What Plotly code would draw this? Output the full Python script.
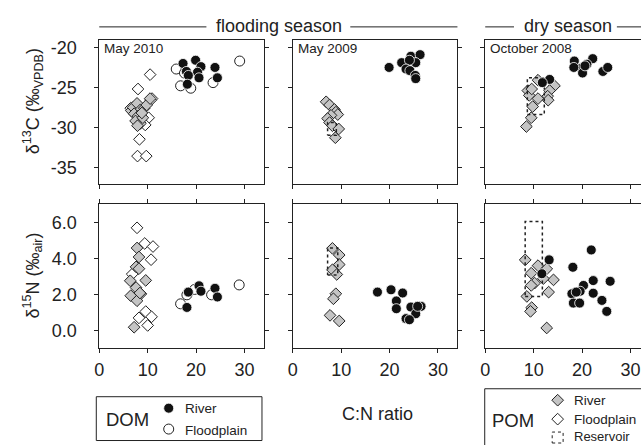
import plotly.graph_objects as go

# ---------------- data (C:N ratio vs isotopes) ----------------
# May 2010 - d13C
m10_dom_river_cn_c = [17.3, 19.9, 21.0, 23.9, 18.0, 20.3, 18.4, 20.6, 24.4, 18.2]
m10_dom_river_d13c = [-22.0, -21.6, -22.4, -22.5, -23.0, -23.1, -23.5, -23.8, -23.8, -24.6]
m10_dom_flood_cn_c = [15.9, 17.6, 16.8, 18.9, 23.5, 29.0]
m10_dom_flood_d13c = [-22.7, -23.2, -24.8, -25.1, -24.4, -21.7]
m10_pom_river_cn_c = [6.6, 7.0, 7.8, 8.5, 7.2, 8.0, 9.3, 9.8, 7.5, 8.5, 9.0, 7.9, 10.5, 8.8]
m10_pom_river_d13c = [-27.9, -27.5, -27.0, -27.8, -28.3, -28.6, -27.6, -27.2, -29.2, -29.5, -28.8, -29.8, -26.4, -28.2]
m10_pom_flood_cn_c = [10.5, 8.0, 10.9, 10.6, 10.2, 9.5, 8.3, 7.9, 9.7, 6.5]
m10_pom_flood_d13c = [-23.4, -25.2, -26.4, -26.6, -28.8, -29.7, -31.5, -33.6, -33.6, -27.6]
# May 2010 - d15N
m10_dom_river_cn_n = [18.1, 18.4, 20.6, 21.0, 23.9, 24.4]
m10_dom_river_d15n = [1.3, 2.15, 2.5, 2.2, 2.36, 1.88]
m10_dom_flood_cn_n = [16.8, 18.1, 19.7, 23.2, 28.9]
m10_dom_flood_d15n = [1.5, 2.0, 2.3, 2.0, 2.55]
m10_pom_river_cn_n = [7.8, 8.2, 7.6, 8.2, 6.4, 9.6, 7.6, 6.5, 8.6, 7.8, 7.2, 8.4]
m10_pom_river_d15n = [4.6, 4.1, 3.55, 3.45, 2.78, 2.8, 2.4, 1.95, 2.05, 1.67, 0.2, 2.1]
m10_pom_flood_cn_n = [7.8, 9.4, 11.1, 10.7, 6.8, 9.6, 8.2, 10.8, 10.0]
m10_pom_flood_d15n = [5.72, 4.85, 4.68, 3.95, 3.15, 1.07, 0.72, 0.78, 0.3]

# May 2009 - d13C
m09_dom_river_cn_c = [19.9, 22.5, 24.4, 26.3, 25.4, 24.1, 23.4, 24.2, 25.3, 25.4]
m09_dom_river_d13c = [-22.5, -21.9, -21.1, -20.9, -21.9, -21.6, -22.7, -22.9, -23.5, -23.9]
m09_pom_river_cn_c = [6.9, 7.6, 8.6, 8.9, 9.3, 7.9, 7.2, 7.6, 8.2, 9.5, 8.8]
m09_pom_river_d13c = [-26.8, -27.2, -27.75, -28.1, -28.4, -28.5, -28.9, -29.4, -29.8, -30.2, -31.3]
m09_res_cn_c = [7.2, 9.0]
m09_res_d13c = [-31.0, -29.4]
# May 2009 - d15N
m09_dom_river_cn_n = [17.5, 20.3, 22.7, 21.4, 21.4, 24.4, 26.5, 25.4, 23.4, 24.1, 25.8]
m09_dom_river_d15n = [2.15, 2.28, 2.1, 1.66, 1.23, 1.32, 1.36, 0.95, 0.68, 0.62, 1.36]
m09_pom_river_cn_n = [8.2, 9.6, 9.6, 8.2, 9.1, 8.9, 8.4, 7.7, 9.6]
m09_pom_river_d15n = [4.58, 4.21, 3.68, 3.39, 3.13, 2.06, 1.78, 0.86, 0.55]
m09_res_cn_n = [7.2, 9.3]
m09_res_d15n = [3.1, 4.6]

# October 2008 - d13C
o08_dom_river_cn_c = [18.4, 22.2, 21.0, 19.8, 18.3, 20.1, 24.3, 25.3, 13.3, 11.8, 20.6]
o08_dom_river_d13c = [-21.7, -21.4, -22.1, -22.6, -22.5, -23.2, -23.0, -22.5, -24.0, -24.4, -22.3]
o08_pom_river_cn_c = [10.9, 8.8, 9.1, 10.9, 9.8, 14.3, 13.3, 12.9, 9.5, 8.5, 9.6, 13.0]
o08_pom_river_d13c = [-24.1, -25.4, -26.0, -26.4, -27.4, -24.8, -25.4, -26.1, -28.8, -29.9, -25.2, -26.6]
o08_res_cn_c = [8.7, 12.2]
o08_res_d13c = [-28.4, -23.8]
# October 2008 - d15N
o08_dom_river_cn_n = [13.2, 21.9, 18.1, 22.3, 25.8, 11.7, 20.3, 17.9, 19.6, 22.3, 24.1, 18.2, 19.5, 25.1, 18.8]
o08_dom_river_d15n = [3.94, 4.49, 3.53, 2.79, 2.75, 3.17, 2.52, 2.06, 2.2, 2.09, 1.69, 1.54, 1.54, 1.08, 2.15]
o08_pom_river_cn_n = [8.25, 10.9, 12.7, 9.5, 14.1, 10.2, 9.5, 13.1, 8.6, 9.6, 9.35, 12.7, 12.0]
o08_pom_river_d15n = [3.94, 3.62, 3.44, 3.2, 2.83, 2.65, 2.52, 2.15, 1.91, 1.29, 1.08, 0.16, 2.9]
o08_res_cn_n = [8.25, 11.8]
o08_res_d15n = [1.91, 6.07]

panel_titles = ["May 2010", "May 2009", "October 2008"]
season_labels = ["flooding season", "dry season"]
x_ticks = [0, 10, 20, 30]
x_ticktext = ["0", "10", "20", "30"]
c_ticks = [-35, -30, -25, -20]
c_ticktext = ["-35", "-30", "-25", "-20"]
n_ticks = [0, 2, 4, 6]
n_ticktext = ["0.0", "2.0", "4.0", "6.0"]

# ---------------- layout geometry ----------------
W, H = 641, 445
FONT = "Arial, Liberation Sans, sans-serif"
INK = "#222222"
GREY = "#c4c4c4"

def fx(p):
    return p / W

def fy(p):
    return 1 - p / H

PXU = 4.88  # pixels per C:N unit
cols = [(95.0, 261.0), (290.0, 456.0), (484.0, 641.0)]
rows = [(38.3, 182.7), (203.3, 347.7)]
c_range = [-37.08, -19.08]
n_range = [-0.96, 7.02]

STY = {
    "pom_flood": dict(symbol="diamond", size=9, color="white", line=dict(color=INK, width=1)),
    "pom_river": dict(symbol="diamond", size=9, color=GREY, line=dict(color=INK, width=1)),
    "dom_flood": dict(symbol="circle", size=10, color="white", line=dict(color=INK, width=1)),
    "dom_river": dict(symbol="circle", size=10, color="#111111", line=dict(color="white", width=0.8)),
}

fig = go.Figure()

def ax(i):
    return ("x" if i == 1 else f"x{i}"), ("y" if i == 1 else f"y{i}")

def pts(i, xs, ys, kind):
    xa, ya = ax(i)
    fig.add_trace(go.Scatter(x=xs, y=ys, mode="markers", marker=STY[kind],
                             xaxis=xa, yaxis=ya, showlegend=False, cliponaxis=False,
                             hoverinfo="skip"))

def res(i, xs, ys):
    xa, ya = ax(i)
    x0, x1 = xs
    y0, y1 = ys
    fig.add_trace(go.Scatter(x=[x0, x1, x1, x0, x0], y=[y0, y0, y1, y1, y0], mode="lines",
                             line=dict(color=INK, width=1.5, dash="dot"),
                             xaxis=xa, yaxis=ya, showlegend=False, hoverinfo="skip"))

# panel 1 (May 2010)
pts(1, m10_pom_flood_cn_c, m10_pom_flood_d13c, "pom_flood")
pts(1, m10_pom_river_cn_c, m10_pom_river_d13c, "pom_river")
pts(1, m10_dom_flood_cn_c, m10_dom_flood_d13c, "dom_flood")
pts(1, m10_dom_river_cn_c, m10_dom_river_d13c, "dom_river")
pts(4, m10_pom_flood_cn_n, m10_pom_flood_d15n, "pom_flood")
pts(4, m10_pom_river_cn_n, m10_pom_river_d15n, "pom_river")
pts(4, m10_dom_flood_cn_n, m10_dom_flood_d15n, "dom_flood")
pts(4, m10_dom_river_cn_n, m10_dom_river_d15n, "dom_river")
# panel 2 (May 2009)
pts(2, m09_pom_river_cn_c, m09_pom_river_d13c, "pom_river")
res(2, m09_res_cn_c, m09_res_d13c)
pts(2, m09_dom_river_cn_c, m09_dom_river_d13c, "dom_river")
pts(5, m09_pom_river_cn_n, m09_pom_river_d15n, "pom_river")
res(5, m09_res_cn_n, m09_res_d15n)
pts(5, m09_dom_river_cn_n, m09_dom_river_d15n, "dom_river")
# panel 3 (October 2008)
pts(3, o08_pom_river_cn_c, o08_pom_river_d13c, "pom_river")
res(3, o08_res_cn_c, o08_res_d13c)
pts(3, o08_dom_river_cn_c, o08_dom_river_d13c, "dom_river")
pts(6, o08_pom_river_cn_n, o08_pom_river_d15n, "pom_river")
res(6, o08_res_cn_n, o08_res_d15n)
pts(6, o08_dom_river_cn_n, o08_dom_river_d15n, "dom_river")

layout = dict(width=W, height=H, margin=dict(l=0, r=0, t=0, b=0),
              paper_bgcolor="white", plot_bgcolor="rgba(0,0,0,0)", showlegend=False,
              font=dict(family=FONT, color=INK))

tickfont = dict(family=FONT, size=18, color=INK)
for r in range(2):
    for c in range(3):
        i = r * 3 + c + 1
        xk = "xaxis" if i == 1 else f"xaxis{i}"
        yk = "yaxis" if i == 1 else f"yaxis{i}"
        x0p, x1p = cols[c]
        y0p, y1p = rows[r]
        xr = [0, (x1p - x0p) / PXU]
        layout[xk] = dict(domain=[fx(x0p), fx(x1p)], range=xr, anchor=("y" if i == 1 else f"y{i}"),
                          showgrid=False, zeroline=False, showline=True, linecolor=INK, linewidth=1,
                          ticks="outside", ticklen=4, tickcolor=INK, tickwidth=1,
                          mirror=("ticks" if r == 1 else True),
                          tickvals=x_ticks, ticktext=x_ticktext,
                          showticklabels=(r == 1), tickfont=tickfont, ticklabelstandoff=1)
        layout[yk] = dict(domain=[fy(y1p), fy(y0p)], range=(c_range if r == 0 else n_range),
                          anchor=("x" if i == 1 else f"x{i}"),
                          showgrid=False, zeroline=False, showline=True, linecolor=INK, linewidth=1,
                          ticks="outside", ticklen=4, tickcolor=INK, tickwidth=1,
                          mirror=("ticks" if c < 2 else False),
                          tickvals=(c_ticks if r == 0 else n_ticks),
                          ticktext=(c_ticktext if r == 0 else n_ticktext),
                          showticklabels=(c == 0), tickfont=tickfont, ticklabelstandoff=14)

# helper axis in pixel units for legend keys
layout["xaxis7"] = dict(domain=[0, 1], range=[0, W], visible=False, anchor="y7")
layout["yaxis7"] = dict(domain=[0, 1], range=[H, 0], visible=False, anchor="x7")
fig.update_layout(**layout)

# legend keys
def key(x, y, kind):
    fig.add_trace(go.Scatter(x=[x], y=[y], mode="markers", marker={**STY[kind], "size": STY[kind]["size"]},
                             xaxis="x7", yaxis="y7", showlegend=False, hoverinfo="skip", cliponaxis=False))

key(165, 408, "dom_river")
key(165, 429, "dom_flood")
key(557, 400, "pom_river")
key(557, 419, "pom_flood")

shapes = []
annotations = []
# reservoir legend key (dotted square)
shapes.append(dict(type="rect", xref="paper", yref="paper", x0=fx(551.5), x1=fx(562.5), y0=fy(443), y1=fy(432),
                   line=dict(color=INK, width=1, dash="dot")))
# legend boxes
shapes.append(dict(type="rect", xref="paper", yref="paper", x0=fx(92), x1=fx(259), y0=fy(440.5), y1=fy(396.5),
                   line=dict(color=INK, width=1)))
shapes.append(dict(type="rect", xref="paper", yref="paper", x0=fx(483.5), x1=fx(700), y0=fy(470), y1=fy(388.5),
                   line=dict(color=INK, width=1)))
# season header lines
for a, b in [(95, 203), (348, 456), (484, 513), (616.7, 700)]:
    shapes.append(dict(type="line", xref="paper", yref="paper", x0=fx(a), x1=fx(b), y0=fy(25), y1=fy(25),
                       line=dict(color=INK, width=1)))

def txt(x, y, s, size, xanchor="center", angle=0):
    annotations.append(dict(x=fx(x), y=fy(y), xref="paper", yref="paper", text=s, showarrow=False,
                            xanchor=xanchor, yanchor="middle", textangle=angle,
                            font=dict(family=FONT, size=size, color=INK)))

txt(276, 24, season_labels[0], 18)
txt(567, 24, season_labels[1], 18)
for c, t in enumerate(panel_titles):
    txt(cols[c][0] + 3, 47, t, 13.5, xanchor="left")
txt(28, 100, "δ<sup>13</sup>C (‰<sub>VPDB</sub>)", 18, angle=-90)
txt(28, 275, "δ<sup>15</sup>N (‰<sub>air</sub>)", 18, angle=-90)
txt(375, 414, "C:N ratio", 18)
txt(100, 419, "DOM", 18.5, xanchor="left")
txt(179, 408, "River", 13.5, xanchor="left")
txt(179, 430, "Floodplain", 13.5, xanchor="left")
txt(489, 420, "POM", 18.5, xanchor="left")
txt(571, 400, "River", 13.5, xanchor="left")
txt(571, 419, "Floodplain", 13.5, xanchor="left")
txt(571, 436.5, "Reservoir", 13, xanchor="left")

fig.update_layout(shapes=shapes, annotations=annotations)
fig.write_html("out.html")
